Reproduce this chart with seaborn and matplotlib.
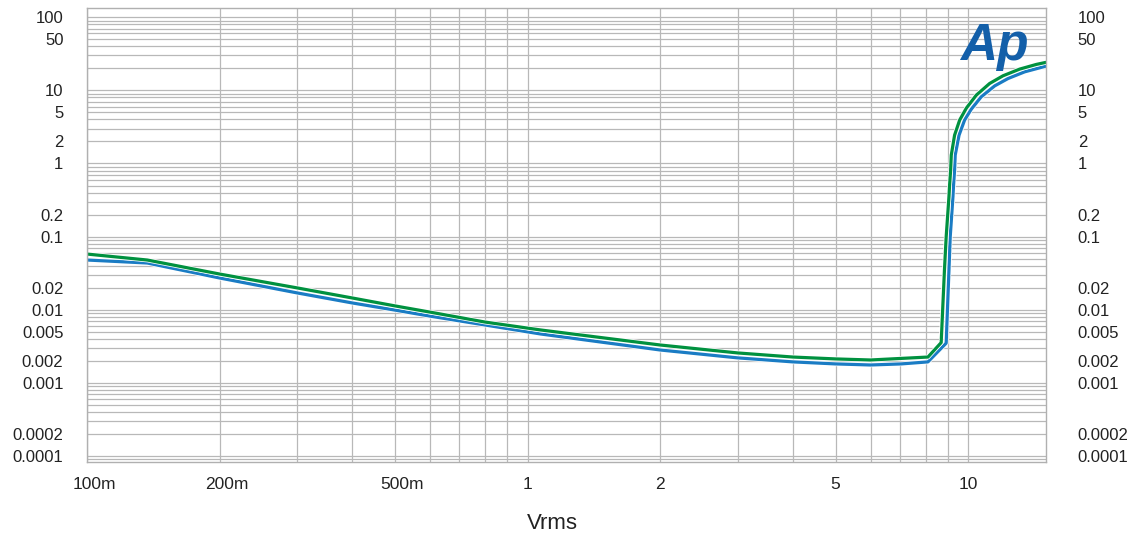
import matplotlib
matplotlib.use('Agg')
import matplotlib.pyplot as plt
import matplotlib.patheffects as pe
from matplotlib.ticker import FixedLocator, FixedFormatter, LogLocator, NullFormatter
from matplotlib.transforms import ScaledTranslation
import seaborn as sns

# THD+N (%) vs output level (Vrms), two channels
green_v = [0.1, 0.137, 0.2, 0.3, 0.4, 0.5, 0.6, 0.8, 1.07, 2.0, 3.0, 4.0, 5.0, 6.0, 8.1,
           8.68, 8.83, 8.91, 9.04, 9.07, 9.12, 9.15, 9.31, 9.56, 9.9, 10.43, 11.18, 11.99,
           13.08, 14.27, 15.0]
green_thd = [0.0578, 0.0479, 0.0308, 0.0199, 0.0145, 0.0113, 0.0093, 0.0068, 0.0053, 0.0033,
             0.00257, 0.00226, 0.00213, 0.00206, 0.00226, 0.00356, 0.035, 0.0997, 0.351,
             0.507, 0.812, 1.30, 2.44, 3.92, 5.71, 8.6, 12.4, 15.8, 19.5, 22.6, 24.1]

blue_v = [0.1, 0.137, 0.2, 0.3, 0.4, 0.5, 0.6, 0.8, 1.07, 2.0, 3.0, 4.0, 5.0, 6.0, 7.04, 8.1,
          8.91, 9.04, 9.10, 9.23, 9.26, 9.31, 9.34, 9.53, 9.81, 10.16, 10.7, 11.48, 12.31,
          13.43, 14.52, 15.0]
blue_thd = [0.0479, 0.0436, 0.0272, 0.017, 0.0124, 0.0099, 0.0082, 0.0062, 0.00467, 0.00282,
            0.0022, 0.00194, 0.00182, 0.00176, 0.00182, 0.00194, 0.0035, 0.035, 0.0997,
            0.351, 0.507, 0.812, 1.30, 2.44, 3.92, 5.53, 8.15, 11.5, 14.5, 17.9, 20.3, 21.4]

x_ticks = [0.1, 0.2, 0.5, 1, 2, 5, 10]
x_labels = ['100m', '200m', '500m', '1', '2', '5', '10']
y_ticks = [100, 50, 10, 5, 2, 1, 0.2, 0.1, 0.02, 0.01, 0.005, 0.002, 0.001, 0.0002, 0.0001]
y_labels = ['100', '50', '10', '5', '2', '1', '0.2', '0.1', '0.02', '0.01', '0.005', '0.002',
            '0.001', '0.0002', '0.0001']

sns.set_theme(style='white')
plt.rcParams['font.family'] = ['Liberation Sans', 'DejaVu Sans']

fig = plt.figure(figsize=(11.32, 5.34), dpi=100)
ax = fig.add_axes([0.0769, 0.1348, 0.847, 0.850])

halo = [pe.Stroke(linewidth=3.4, foreground='white'), pe.Normal()]
sns.lineplot(x=blue_v, y=blue_thd, ax=ax, color='#1a7cc4', linewidth=2.3, path_effects=halo)
sns.lineplot(x=green_v, y=green_thd, ax=ax, color='#00913f', linewidth=2.3, path_effects=halo)

ax.set_xscale('log')
ax.set_yscale('log')
ax.set_xlim(0.1, 15)
ax.set_ylim(8.3e-5, 133)

ax.xaxis.set_major_locator(FixedLocator(x_ticks))
ax.xaxis.set_major_formatter(FixedFormatter(x_labels))
ax.xaxis.set_minor_locator(LogLocator(subs=range(2, 10)))
ax.xaxis.set_minor_formatter(NullFormatter())
ax.yaxis.set_major_locator(FixedLocator(y_ticks))
ax.yaxis.set_major_formatter(FixedFormatter(y_labels))
ax.yaxis.set_minor_locator(LogLocator(subs=range(2, 10), numticks=20))
ax.yaxis.set_minor_formatter(NullFormatter())

ax.grid(which='both', color='#b8b8b8', linewidth=0.9)
ax.tick_params(which='both', length=0)
ax.tick_params(axis='x', labelsize=12.5, pad=11, labelcolor='#222222')
ax.tick_params(axis='y', labelsize=12, pad=17, labelcolor='#222222')
for s in ax.spines.values():
    s.set_color('#b0b0b0')
    s.set_linewidth(1)

# "m" hangs off to the right of the centred number
for lab in ax.get_xticklabels():
    if lab.get_text().endswith('m'):
        lab.set_transform(lab.get_transform() + ScaledTranslation(0.07, 0, fig.dpi_scale_trans))

# right-hand copy of the y labels
ax2 = ax.twinx()
ax2.set_yscale('log')
ax2.set_ylim(ax.get_ylim())
ax2.yaxis.set_major_locator(FixedLocator(y_ticks))
ax2.yaxis.set_major_formatter(FixedFormatter(y_labels))
ax2.yaxis.set_minor_formatter(NullFormatter())
ax2.tick_params(which='both', length=0)
ax2.tick_params(axis='y', labelsize=12, pad=23, labelcolor='#222222')
ax2.grid(False)
for s in ax2.spines.values():
    s.set_visible(False)

ax.set_xlabel('Vrms', fontsize=16, color='#222222')
ax.xaxis.set_label_coords(0.485, -0.112)

# Ap logo
fig.text(0.848, 0.888, 'Ap', fontsize=37, fontweight='bold', style='italic',
         color='#135fa9', family=['Liberation Sans'], va='baseline')

fig.savefig('out.png', dpi=100)
